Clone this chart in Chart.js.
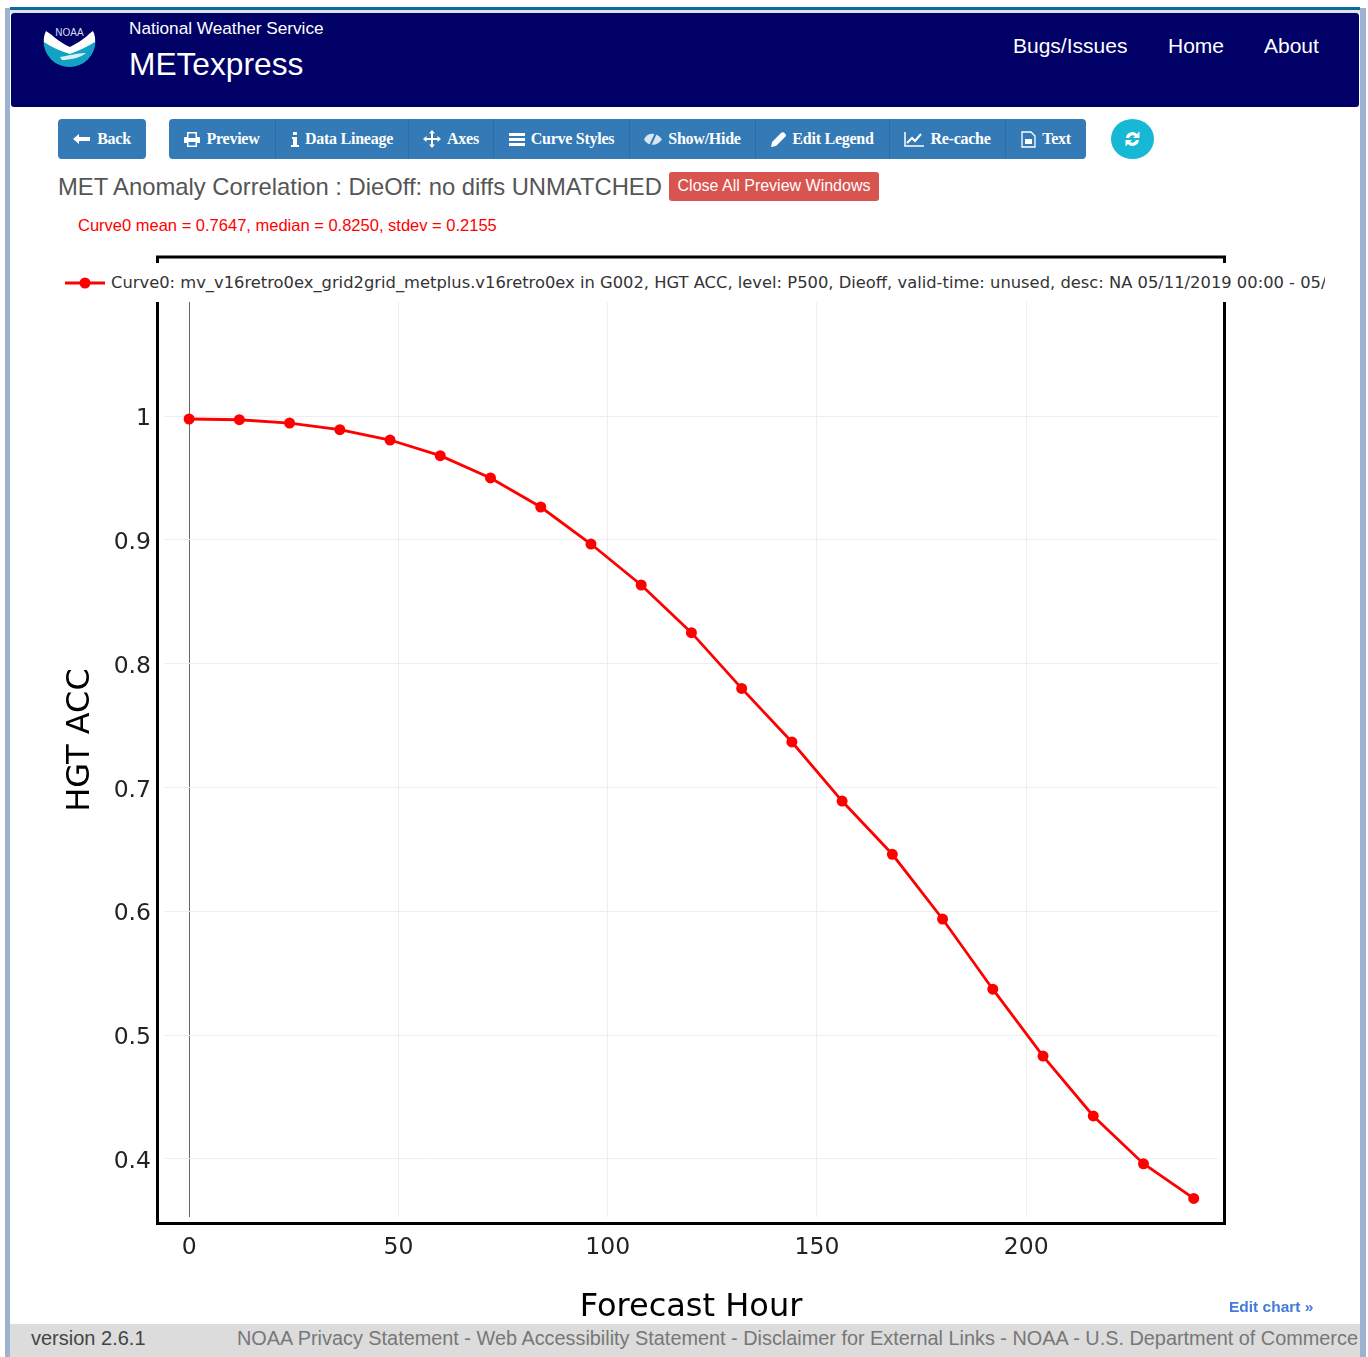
<!DOCTYPE html>
<html><head><meta charset="utf-8"><title>METexpress</title>
<script src="https://cdn.jsdelivr.net/npm/chart.js@4"></script>
<style>
html,body{margin:0;padding:0;background:#fff;width:1368px;height:1357px;overflow:hidden}
*{box-sizing:border-box}
body{font-family:"Liberation Sans",Arial,sans-serif;position:relative}
.a{position:absolute;white-space:nowrap}
#lstripe{left:5px;top:8px;width:5px;height:1349px;background:#9db2ce}
#rstripe{left:1360px;top:8px;width:6px;height:1349px;background:#9db2ce}
#teal{left:10px;top:7px;width:1350px;height:3px;background:#0a6a9c}
#gray{left:10px;top:10px;width:1350px;height:3px;background:#dfe3e6}
#nav{left:11px;top:13px;width:1348px;height:94px;background:#000066;border-radius:3px}
.w{color:#fff}
.btn{background:#337ab7;height:40px;top:119px;color:#fff;font:bold 16px "Liberation Serif",serif;display:flex;align-items:center;justify-content:center;gap:6px;letter-spacing:-.25px;border-right:1px solid #2e6da4}
.btn svg{flex:none}
#chartCanvas{position:absolute;left:0;top:0}
#legend{left:60px;top:262px;width:1265px;height:40px;background:transparent;overflow:hidden;z-index:3}
#band{left:60px;top:263px;width:1265px;height:39px;background:#fff;z-index:2}
#legend svg{position:absolute;left:4px;top:11px}
#legend span{position:absolute;left:51px;top:11px;font:16.330px "DejaVu Sans",sans-serif;color:#333;line-height:20px}
#foot{left:10px;top:1324px;width:1350px;height:33px;background:#dcdcdc}
</style></head><body>
<div class="a" id="lstripe"></div><div class="a" id="rstripe"></div>
<div class="a" id="teal"></div><div class="a" id="gray"></div><div class="a" id="nav"></div>
<svg class="a" style="left:43px;top:20px" width="53" height="53" viewBox="0 0 53 53">
<path d="M.5 21A26 26 0 0 0 52.500 21L27 30Z" fill="#12a3c4"/>
<path d="M3 11C6 13 9 15 11 17C16 21 22 25 27 27C33 24 39 20 44 16C46 14 48 12 50 11C52 15 52.500 19 52 22C44 27 35 31 27 34C17 31 8 27 1 22C.5 19 1 15 3 11Z" fill="#fff"/>
<path d="M17 37C24 36 34 33 43 33C37 38 26 40 19 40Z" fill="#d9f1f6"/>
<text x="26.500" y="16" text-anchor="middle" fill="#d8dcf0" font-family="Liberation Sans" font-size="10">NOAA</text>
</svg>
<div class="a w" style="left:129px;top:18px;font-size:17.200px;line-height:20px">National Weather Service</div>
<div class="a w" style="left:129px;top:46px;font-size:31.700px;line-height:36px">METexpress</div>
<div class="a w" style="left:1013px;top:33px;font-size:21px;line-height:26px">Bugs/Issues</div>
<div class="a w" style="left:1168px;top:33px;font-size:21px;line-height:26px">Home</div>
<div class="a w" style="left:1264px;top:33px;font-size:21px;line-height:26px">About</div>

<div class="a btn" style="left:58px;width:88px;border-radius:4px;border:0"><svg width="18" height="12" viewBox="0 0 18 12"><path d="M0 6L6 1V4H17V8H6V11Z" fill="#fff"/></svg>Back</div>
<div class="a btn" style="left:169px;width:107px;border-radius:4px 0 0 4px"><svg width="16" height="15" viewBox="0 0 16 15"><path d="M3 0H13V5H15Q16 5 16 6V11H13V15H3V11H0V6Q0 5 1 5H3ZM4.500 1.500V6H11.500V1.500ZM4.500 10V13.500H11.500V10Z" fill="#fff" fill-rule="evenodd"/></svg>Preview</div>
<div class="a btn" style="left:276px;width:133px"><svg width="8" height="15" viewBox="0 0 8 15"><path d="M2 0H6V3H2ZM1 5H6V13H8V15H0V13H2V7H1Z" fill="#fff"/></svg>Data Lineage</div>
<div class="a btn" style="left:409px;width:85px"><svg width="18" height="18" viewBox="0 0 18 18"><path d="M9 0L12 3.500H10V8H14.500V6L18 9L14.500 12V10H10V14.500H12L9 18L6 14.500H8V10H3.500V12L0 9L3.500 6V8H8V3.500H6Z" fill="#fff"/></svg>Axes</div>
<div class="a btn" style="left:494px;width:136px"><svg width="16" height="13" viewBox="0 0 16 13"><path d="M0 0H16V3H0ZM0 5H16V8H0ZM0 10H16V13H0Z" fill="#fff"/></svg>Curve Styles</div>
<div class="a btn" style="left:630px;width:126px"><svg width="18" height="13" viewBox="0 0 18 13"><path d="M0 6.500C3-.5 12-1.500 18 6.500C13 13.500 4 13.500 0 6.500Z" fill="#d7e6f3"/><path d="M12 0L6 13" stroke="#337ab7" stroke-width="2"/></svg>Show/Hide</div>
<div class="a btn" style="left:756px;width:134px"><svg width="15" height="15" viewBox="0 0 15 15"><path d="M0 15L1 10L10 1Q12-.5 14 1.500T14 5L5 14Z" fill="#fff"/></svg>Edit Legend</div>
<div class="a btn" style="left:890px;width:116px"><svg width="20" height="15" viewBox="0 0 20 15"><path d="M1 0V14H20" stroke="#fff" stroke-width="1.500" fill="none"/><path d="M3 11L8 6L11 9L17 2" stroke="#fff" stroke-width="2" fill="none"/></svg>Re-cache</div>
<div class="a btn" style="left:1006px;width:80px;border-radius:0 4px 4px 0;border:0"><svg width="15" height="17" viewBox="0 0 15 17"><path d="M1 1H10L14 5V16H1Z" stroke="#fff" stroke-width="1.300" fill="none"/><path d="M4 8H11V13H4Z" fill="#fff"/></svg>Text</div>
<div class="a" style="left:1111px;top:119px;width:43px;height:40px;border-radius:50%;background:#17b7d6"></div>
<svg class="a" style="left:1123px;top:130px" width="19" height="18" viewBox="0 0 19 18"><path d="M3 8A6.500 6.500 0 0 1 14 4L16.500 1.500V8H10L12 6A4 4 0 0 0 6 8ZM16 10A6.500 6.500 0 0 1 5 14L2.500 16.500V10H9L7 12A4 4 0 0 0 13 10Z" fill="#fff"/></svg>

<div class="a" style="left:58px;top:173px;font-size:23.800px;line-height:28px;color:#555">MET Anomaly Correlation : DieOff: no diffs UNMATCHED</div>
<div class="a w" style="left:669px;top:172px;width:210px;height:29px;background:#d9534f;border-radius:3px;font-size:16px;line-height:27px;text-align:center">Close All Preview Windows</div>
<div class="a" style="left:78px;top:216px;font-size:16.500px;line-height:18px;color:#ff0000">Curve0 mean = 0.7647, median = 0.8250, stdev = 0.2155</div>

<canvas id="chartCanvas" width="1368" height="1357"></canvas>

<div class="a" id="band"></div>
<div class="a" id="legend">
<svg width="42" height="20" viewBox="0 0 42 20"><path d="M1 10H41" stroke="#ff0000" stroke-width="2.800"/><circle cx="21" cy="10" r="5.500" fill="#ff0000"/></svg>
<span>Curve0: mv_v16retro0ex_grid2grid_metplus.v16retro0ex in G002, HGT ACC, level: P500, Dieoff, valid-time: unused, desc: NA 05/11/2019 00:00 - 05/</span>
</div>
<div class="a" style="left:1229px;top:1298px;font-size:15.500px;line-height:17px;font-weight:bold;color:#447adb;z-index:3">Edit chart »</div>
<div class="a" id="foot"></div>
<div class="a" style="left:31px;top:1326px;font-size:20px;line-height:24px;color:#444">version 2.6.1</div>
<div class="a" style="left:237px;top:1326px;font-size:19.870px;line-height:24px;color:#777">NOAA Privacy Statement - Web Accessibility Statement - Disclaimer for External Links - NOAA - U.S. Department of Commerce</div>

<script>
const forecastHours = [0,12,24,36,48,60,72,84,96,108,120,132,144,156,168,180,192,204,216,228,240];
const accValues = [0.9976,0.9970,0.9943,0.9890,0.9806,0.9680,0.9500,0.9265,0.8966,0.8635,0.8250,0.7800,0.7367,0.6890,0.6460,0.5937,0.5370,0.4830,0.4346,0.3960,0.3680];
const xTickValues = [0,50,100,150,200];
const yTickValues = [0.4,0.5,0.6,0.7,0.8,0.9,1,1.1];
const seriesName = "Curve0";
const xAxisTitle = "Forecast Hour";
const yAxisTitle = "HGT ACC";

const framePlugin = {
  id: 'frame',
  afterDraw(chart) {
    const a = chart.chartArea, c = chart.ctx;
    c.save();
    c.strokeStyle = '#000';
    c.lineWidth = 3;
    c.strokeRect(a.left - 6.5, a.top - 6, a.width + 13, a.height + 12.5);
    c.restore();
  }
};

new Chart(document.getElementById('chartCanvas'), {
  type: 'line',
  plugins: [framePlugin],
  data: { datasets: [{
    label: seriesName,
    data: forecastHours.map((h, i) => ({ x: h, y: accValues[i] })),
    borderColor: '#ff0000',
    backgroundColor: '#ff0000',
    borderWidth: 2.8,
    pointRadius: 5.5,
    pointBorderWidth: 0,
    tension: 0,
    clip: false
  }]},
  options: {
    responsive: false,
    animation: false,
    layout: { padding: { left: 61, top: 263, right: 150, bottom: 30 } },
    plugins: { legend: { display: false }, tooltip: { enabled: false } },
    scales: {
      x: {
        type: 'linear',
        min: -6, max: 245.8,
        afterBuildTicks(s) { s.ticks = xTickValues.map(value => ({ value })); },
        afterFit(s) { s.height = 110; },
        border: { display: false },
        grid: {
          drawTicks: false,
          lineWidth: 1,
          color: c => c.tick && c.tick.value === 0 ? '#666' : '#eeeeee'
        },
        ticks: { maxRotation: 0, padding: 17, autoSkip: false,
          color: '#222', font: { family: '"DejaVu Sans"', size: 23.5 },
          callback: v => String(v) },
        title: { display: true, text: xAxisTitle, color: '#000', padding: 0,
          font: { family: '"DejaVu Sans"', size: 32 } }
      },
      y: {
        type: 'linear',
        min: 0.353, max: 1.1236,
        afterBuildTicks(s) { s.ticks = yTickValues.map(value => ({ value })); },
        afterFit(s) { s.width = 103; },
        border: { display: false },
        grid: { drawTicks: false, lineWidth: 1, color: '#eeeeee' },
        ticks: { padding: 13, autoSkip: false,
          color: '#222', font: { family: '"DejaVu Sans"', size: 23.5, lineHeight: '6px' },
          callback: v => ['', String(Number(v.toFixed(1)))] },
        title: { display: true, text: yAxisTitle, color: '#000', padding: 0,
          font: { family: '"DejaVu Sans"', size: 32 } }
      }
    }
  }
});
</script>
</body></html>
